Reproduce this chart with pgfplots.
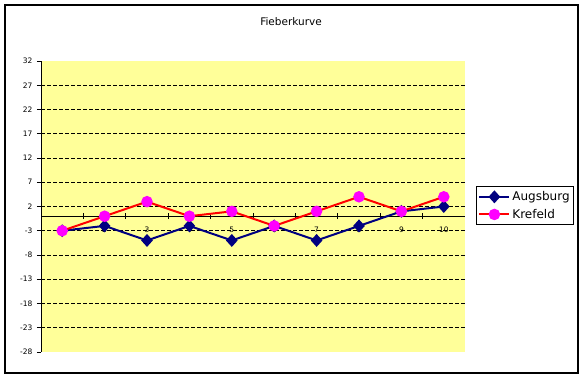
\documentclass[border=0pt]{standalone}
\usepackage{fontspec}
\setmainfont{DejaVu Sans}
\usepackage{pgfplots}
\pgfplotsset{compat=1.18}
\definecolor{plotyellow}{HTML}{FFFF99}
\definecolor{navyblue}{HTML}{000080}
\definecolor{magentapt}{HTML}{FF00FF}
\begin{document}
\begin{tikzpicture}
\path (0pt,0pt) rectangle (584pt,377pt);
\draw[line width=1.2pt] (5pt,4pt) rectangle (578pt,372pt);
\node[font=\fontsize{10.5}{12}\selectfont] at (291pt,355pt) {Fieberkurve};
\begin{axis}[at={(41pt,25pt)}, anchor=south west, scale only axis,
  width=424pt, height=291pt,
  xmin=0.5, xmax=10.5, ymin=-28, ymax=32,
  axis background/.style={fill=plotyellow},
  axis x line*=middle, axis y line*=left,
  axis line style={black, line width=0.8pt},
  /pgf/number format/assume math mode=true,
  ytick={-28,-23,...,32},
  xtick={1,...,10},
  major x tick style={draw=none},
  minor xtick={1.5,2.5,...,9.5},
  minor tick length=6pt,
  minor x tick style={draw=black, line width=0.8pt},
  xtick align=center,
  ytick align=outside,
  major tick length=4pt,
  tick style={black, line width=0.8pt},
  extra y ticks={-23,-18,...,27},
  extra y tick labels={},
  extra y tick style={ymajorgrids=true, major tick length=0pt},
  major grid style={black, line width=0.7pt, dash pattern=on 3.5pt off 2.5pt},
  ticklabel style={font=\fontsize{7.5}{9}\selectfont},
  yticklabel style={xshift=-1pt},
  xticklabel style={yshift=-5pt},
  legend style={at={(1.026,0.503)}, anchor=west, draw=black, fill=white,
    font=\fontsize{12}{14}\selectfont, row sep=3pt, inner xsep=2pt, inner ysep=3pt,
    line width=0.8pt},
  legend cell align=left,
  legend image code/.code={\draw[mark repeat=2,mark phase=2,#1] plot coordinates {(0pt,0pt) (15pt,0pt) (30pt,0pt)};},
]
\addplot[navyblue, line width=2pt, mark=diamond*, mark size=5pt,
  mark options={fill=navyblue, draw=navyblue, xscale=1.2}]
  coordinates {(1,-3) (2,-2) (3,-5) (4,-2) (5,-5) (6,-2) (7,-5) (8,-2) (9,1) (10,2)};
\addlegendentry{Augsburg}
\addplot[red, line width=2pt, mark=*, mark size=4.7pt,
  mark options={fill=magentapt, draw=magentapt}]
  coordinates {(1,-3) (2,0) (3,3) (4,0) (5,1) (6,-2) (7,1) (8,4) (9,1) (10,4)};
\addlegendentry{Krefeld}
\end{axis}
\end{tikzpicture}
\end{document}
